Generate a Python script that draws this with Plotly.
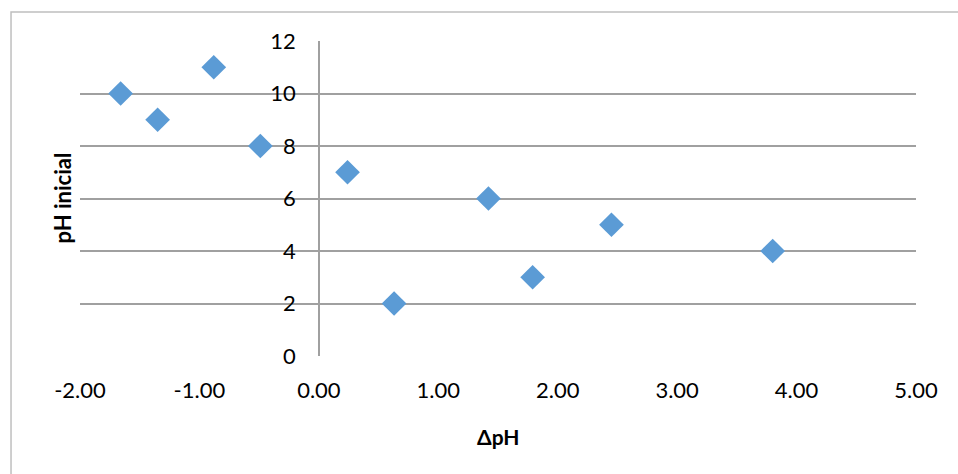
import plotly.graph_objects as go

delta_ph = [-1.66, -1.35, -0.88, -0.49, 0.24, 0.63, 1.42, 1.79, 2.45, 3.80]
ph_inicial = [10, 9, 11, 8, 7, 2, 6, 3, 5, 4]

x_tickvals = [-2, -1, 0, 1, 2, 3, 4, 5]
x_ticktext = ["-2.00", "-1.00", "0.00", "1.00", "2.00", "3.00", "4.00", "5.00"]
y_tickvals = [0, 2, 4, 6, 8, 10, 12]
y_ticktext = ["0", "2", "4", "6", "8", "10", "12"]

FONT = "Lato, 'Open Sans', sans-serif"

fig = go.Figure()
fig.add_trace(go.Scatter(
    x=delta_ph, y=ph_inicial, mode="markers",
    marker=dict(symbol="diamond", size=19, color="#5B9BD5"),
    showlegend=False, hoverinfo="x+y",
))

fig.update_layout(
    width=958, height=474,
    margin=dict(l=80, r=42, t=41, b=118),
    paper_bgcolor="white", plot_bgcolor="white",
    font=dict(family=FONT, size=22, color="black"),
    xaxis=dict(
        range=[-2, 5], tickvals=x_tickvals, ticktext=x_ticktext,
        showgrid=False, zeroline=True, zerolinecolor="#a0a0a0", zerolinewidth=1.5,
        showline=False, ticks="", ticklabelstandoff=19,
        tickfont=dict(family=FONT, size=22),
    ),
    yaxis=dict(
        range=[0, 12], tickvals=y_tickvals, ticktext=y_ticktext,
        showgrid=True, gridcolor="#a0a0a0", gridwidth=1.5,
        zeroline=False, showline=False, ticks="",
        anchor="free", position=2/7, ticklabelstandoff=23,
        tickfont=dict(family=FONT, size=22),
    ),
    shapes=[dict(type="rect", xref="paper", yref="paper",
                 x0=-0.0825, x1=1.2, y0=-0.6, y1=1.092,
                 line=dict(color="#bfbfbf", width=1.5), layer="below")],
    annotations=[
        dict(text="<b>ΔpH</b>", xref="paper", yref="paper", x=0.5, y=-0.254,
             showarrow=False, font=dict(family=FONT, size=21), xanchor="center", yanchor="middle"),
        dict(text="<b>pH inicial</b>", xref="paper", yref="paper", x=-0.0215, y=0.5,
             showarrow=False, textangle=-90, font=dict(family=FONT, size=22),
             xanchor="center", yanchor="middle"),
    ],
)

fig.write_html("out.html")
